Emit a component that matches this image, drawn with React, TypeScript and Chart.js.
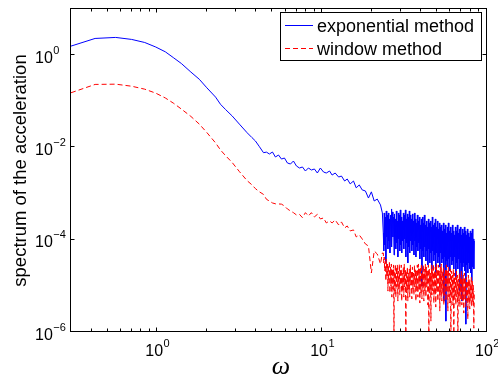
import React, { useEffect, useRef } from "react";
import { Chart, registerables } from "chart.js";

Chart.register(...registerables);

// ---- data ----
const omega = [
  0.3, 0.42, 0.56, 0.7, 0.84, 0.98, 1.12, 1.26, 1.4, 1.6, 1.8, 2.0, 2.26, 2.42, 2.6, 2.85, 3.15, 3.51, 3.75, 3.94, 4.15,
  4.41, 4.6, 4.79, 5.0, 5.21, 5.44, 5.67, 5.91, 6.16, 6.43,
  6.7, 6.99, 7.29, 7.6, 7.92, 8.26, 8.61, 8.98, 9.36, 9.76,
  10.2, 10.6, 11.1, 11.5, 12.0, 12.6, 13.1, 13.7, 14.2, 14.8,
  15.5, 16.1, 16.8, 17.5, 18.3, 19.1, 19.9, 20.7, 21.6, 22.6, 23.2,
  23.5, 23.66, 23.8, 23.97, 24.2, 24.37, 24.5, 24.67, 24.9, 25.07,
  25.2, 25.38, 25.6, 25.78, 26.0, 26.18, 26.3, 26.48, 26.7, 26.89,
  27.1, 27.29, 27.4, 27.59, 27.8, 27.99, 28.2, 28.4, 28.6, 28.8,
  29.0, 29.2, 29.4, 29.6, 29.8, 30.0, 30.2, 30.4, 30.6, 30.8,
  31.1, 31.3, 31.5, 31.7, 32.0, 32.2, 32.4, 32.6, 32.9, 33.1,
  33.3, 33.5, 33.8, 34.0, 34.3, 34.5, 34.8, 35.0, 35.3, 35.5,
  35.8, 36.05, 36.3, 36.55, 36.8, 37.05, 37.3, 37.55, 37.8, 38.1,
  38.4, 38.65, 38.9, 39.15, 39.4, 39.7, 40.0, 40.3, 40.6, 40.9,
  41.1, 41.4, 41.7, 42.0, 42.3, 42.6, 42.9, 43.2, 43.5, 43.8,
  44.1, 44.4, 44.7, 45.0, 45.4, 45.7, 46.0, 46.3, 46.6, 46.9,
  47.3, 47.6, 48.0, 48.3, 48.6, 48.9, 49.3, 49.6, 50.0, 50.35,
  50.7, 51.05, 51.4, 51.75, 52.1, 52.45, 52.8, 53.2, 53.6, 54.0,
  54.4, 54.75, 55.1, 55.5, 55.9, 56.3, 56.7, 57.1, 57.5, 57.9,
  58.3, 58.7, 59.1, 59.5, 60.0, 60.4, 60.8, 61.2, 61.7, 62.1,
  62.5, 62.9, 63.4, 63.8, 64.3, 64.75, 65.2, 65.65, 66.1, 66.55,
  67.1, 67.55, 68.0, 68.5, 69.0, 69.45, 69.9, 70.4, 70.9, 71.4,
  71.8, 72.3, 72.9, 73.4, 73.9, 74.4, 75.0, 75.5, 76.0, 76.5,
  77.1, 77.6, 78.1, 78.6, 79.2, 79.75, 80.3, 80.85, 81.5, 82.05,
  82.6, 83.2, 83.8,
];

const exponentialMethod = [
  1.57, 2.3, 2.42, 2.19, 1.88, 1.5, 1.18, 0.87, 0.66, 0.43, 0.3, 0.196, 0.123, 0.086, 0.066, 0.048, 0.032, 0.0208, 0.0164, 0.0138, 0.0106,
  7.7e-3, 7.9e-3, 7.2e-3, 7.95e-3, 6.2e-3, 6.85e-3, 5.6e-3, 5.9e-3, 4.6e-3, 4.37e-3,
  5.08e-3, 3.96e-3, 3.58e-3, 3.77e-3, 3.08e-3, 3.58e-3, 3.24e-3, 3.41e-3, 2.79e-3, 3.58e-3,
  2.93e-3, 2.79e-3, 3.08e-3, 2.52e-3, 2.79e-3, 2.28e-3, 2.4e-3, 1.87e-3, 2.07e-3, 1.62e-3,
  1.87e-3, 1.33e-3, 1.54e-3, 1.2e-3, 1.14e-3, 8.0e-4, 1.09e-3, 6.9e-4, 7.6e-4, 5.67e-4, 3.8e-4,
  1.4e-4, 5.7e-5, 3.8e-4, 7.7e-5, 3.11e-4, 3.14e-5, 4.2e-4, 1.15e-4, 3.44e-4, 6.3e-5,
  3.8e-4, 9.4e-5, 2.82e-4, 5.16e-5, 3.44e-4, 1.04e-4, 4.64e-4, 6.96e-5, 4.0e-4, 1.15e-4,
  3.11e-4, 4.67e-5, 3.62e-4, 9.4e-5, 2.82e-4, 6.3e-5, 4.2e-4, 8.5e-5, 2.55e-4, 4.23e-5,
  3.8e-4, 1.04e-4, 3.44e-4, 5.7e-5, 4.42e-4, 7.7e-5, 3.11e-4, 5.16e-5, 2.55e-4, 9.4e-5,
  3.8e-4, 6.3e-5, 3.44e-4, 1.04e-4, 4.42e-4, 4.23e-5, 2.82e-4, 8.5e-5, 3.62e-4, 3.14e-5,
  3.11e-4, 6.96e-5, 4.2e-4, 5.16e-5, 3.44e-4, 9.4e-5, 2.82e-4, 5.7e-5, 3.62e-4, 7.7e-5,
  2.55e-4, 4.67e-5, 3.8e-4, 9.4e-5, 2.82e-4, 4.23e-5, 2.31e-4, 6.96e-5, 3.44e-4, 5.7e-5,
  2.55e-4, 8.5e-5, 3.11e-4, 3.83e-5, 2.09e-4, 6.3e-5, 2.82e-4, 9.9e-6, 3.11e-4, 5.7e-5,
  2.31e-4, 4.23e-5, 3.44e-4, 6.96e-5, 2.09e-4, 3.47e-5, 2.55e-4, 5.7e-5, 1.89e-4, 2.84e-5,
  2.82e-4, 6.3e-5, 2.31e-4, 3.14e-5, 2.55e-4, 5.16e-5, 1.89e-4, 2.32e-5, 3.11e-4, 5.7e-5,
  2.09e-4, 3.47e-5, 2.31e-4, 4.67e-5, 2.82e-4, 1.9e-5, 1.89e-4, 5.16e-5, 2.55e-4, 3.14e-5,
  1.71e-4, 4.23e-5, 2.31e-4, 2.57e-5, 1.89e-4, 5.16e-5, 2.09e-4, 3.14e-5, 1.55e-4, 3.83e-5,
  2.31e-4, 4.68e-6, 1.71e-4, 4.23e-5, 2.09e-4, 1.72e-6, 1.4e-4, 3.47e-5, 1.89e-4, 2.57e-5,
  2.31e-4, 3.83e-5, 1.55e-4, 2.1e-5, 1.89e-4, 4.23e-5, 1.4e-4, 2.84e-5, 2.09e-4, 3.47e-5,
  1.55e-4, 2.32e-5, 1.27e-4, 4.23e-5, 1.89e-4, 1.56e-5, 1.55e-4, 3.14e-5, 2.09e-4, 2.32e-5,
  1.4e-4, 3.83e-5, 1.71e-4, 7.7e-6, 1.89e-4, 3.14e-5, 1.27e-4, 4.68e-6, 1.71e-4, 2.57e-5,
  1.4e-4, 3.14e-5, 1.89e-4, 2.1e-5, 1.55e-4, 1.48e-6, 1.27e-4, 2.84e-5, 1.71e-4, 1.9e-5,
  1.4e-4, 3.14e-5, 1.15e-4, 2.32e-5, 1.55e-4, 1.9e-5, 1.4e-4, 1.28e-5, 1.71e-4, 2.57e-5,
  1.04e-4, 2.32e-5, 9.4e-5,
];

const windowMethod = [
  0.153, 0.232, 0.235, 0.212, 0.183, 0.15, 0.118, 0.09, 0.068, 0.047, 0.032, 0.021, 0.0125, 0.0088, 0.0066, 0.0047, 0.003, 0.0019, 0.00155, 0.00128, 0.0011,
  9.6e-4, 7.5e-4, 6.9e-4, 6.26e-4, 6.0e-4, 5.96e-4, 5.9e-4, 5.39e-4, 4.64e-4, 4.2e-4,
  3.86e-4, 3.44e-4, 3.55e-4, 3.0e-4, 3.86e-4, 3.27e-4, 3.86e-4, 3.11e-4, 3.55e-4, 2.82e-4,
  2.96e-4, 2.31e-4, 2.55e-4, 2.31e-4, 2.68e-4, 2.09e-4, 2.43e-4, 1.8e-4, 1.99e-4, 1.55e-4,
  1.63e-4, 1.15e-4, 1.27e-4, 1.04e-4, 8.1e-5, 7.3e-5, 1.9e-5, 5.7e-5, 4.9e-5, 2.98e-5, 5.16e-5,
  5.16e-5, 3.14e-5, 4.23e-5, 2.1e-5, 3.47e-5, 1.28e-5, 3.83e-5, 1.64e-5, 2.98e-5, 7.7e-6,
  2.84e-5, 1.15e-5, 3.47e-5, 7.0e-6, 2.57e-5, 9.9e-6, 2.98e-5, 5.7e-6, 2.32e-5, 8.5e-6,
  2.84e-5, 5e-7, 2.1e-5, 7.7e-6, 2.98e-5, 5.7e-6, 2.57e-5, 9.43e-6, 2.84e-5, 4.68e-6,
  2.1e-5, 8.5e-6, 2.98e-5, 6.3e-6, 2.32e-5, 1.04e-5, 2.84e-5, 4.68e-6, 1.9e-5, 7.7e-6,
  2.57e-5, 5.7e-6, 2.98e-5, 9.43e-6, 2.32e-5, 5e-7, 2.1e-5, 7.0e-6, 2.57e-5, 4.68e-6,
  1.9e-5, 8.5e-6, 2.32e-5, 5.7e-6, 2.84e-5, 1.04e-5, 2.1e-5, 5.2e-6, 2.57e-5, 8.5e-6,
  1.9e-5, 6.3e-6, 2.84e-5, 9.43e-6, 2.32e-5, 4.68e-6, 2.1e-5, 7.7e-6, 2.84e-5, 5.7e-6,
  2.98e-5, 8.5e-6, 2.32e-5, 4.24e-6, 2.57e-5, 7.0e-6, 2.98e-5, 5.2e-6, 2.1e-5, 8.5e-6,
  2.84e-5, 4.68e-6, 2.32e-5, 7.7e-6, 2.98e-5, 5.7e-6, 2.57e-5, 9.43e-6, 2.1e-5, 3.83e-6,
  2.84e-5, 5e-7, 2.32e-5, 7.0e-6, 1.9e-5, 1.72e-6, 2.84e-5, 6.3e-6, 2.32e-5, 7.7e-6,
  2.98e-5, 4.24e-6, 2.1e-5, 6.3e-6, 2.57e-5, 3.47e-6, 2.98e-5, 7.7e-6, 2.32e-5, 4.68e-6,
  2.84e-5, 7.0e-6, 2.1e-5, 2.84e-6, 2.57e-5, 6.3e-6, 2.98e-5, 4.68e-6, 2.1e-5, 7.0e-6,
  2.57e-5, 3.83e-6, 1.9e-5, 6.3e-6, 2.32e-5, 4.68e-6, 2.84e-5, 7.7e-6, 2.1e-5, 2.84e-6,
  2.57e-5, 5.7e-6, 1.9e-5, 4.24e-6, 2.32e-5, 5e-7, 2.1e-5, 5.7e-6, 1.72e-5, 3.83e-6,
  2.32e-5, 5e-7, 1.9e-5, 5.2e-6, 1.56e-5, 3.83e-6, 2.1e-5, 5.7e-6, 1.72e-5, 5e-7,
  1.41e-5, 4.68e-6, 1.9e-5, 3.47e-6, 1.56e-5, 5.2e-6, 2.1e-5, 3.83e-6, 1.41e-5, 4.68e-6,
  1.72e-5, 2.57e-6, 1.9e-5, 5.2e-6, 1.41e-5, 3.47e-6, 1.56e-5, 4.68e-6, 1.28e-5, 1.9e-6,
  1.72e-5, 4.24e-6, 1.41e-5, 3.14e-6, 1.15e-5, 4.68e-6, 1.56e-5, 3.47e-6, 1.28e-5, 4.24e-6,
  1.04e-5, 1.21e-6, 7.7e-6,
];

const xTickValues = [1, 10, 100];
const xTickExponents = ["0", "1", "2"];
const xMinorTicks = [0.4, 0.5, 0.6, 0.7, 0.8, 0.9, 2, 3, 4, 5, 6, 7, 8, 9, 20, 30, 40, 50, 60, 70, 80, 90];
const yTickValues = [1, 1e-2, 1e-4, 1e-6];
const yTickExponents = ["0", "\u22122", "\u22124", "\u22126"];
const seriesLabels = ["exponential method", "window method"];
const yAxisLabel = "spectrum of the acceleration";
const xAxisLabel = "\u03c9";

const SANS = '"Liberation Sans", Arial, Helvetica, sans-serif';

const decorPlugin = {
  id: "matlabDecor",
  afterDraw(chart: any) {
    const { ctx, chartArea: a, scales } = chart;
    const xs = scales.x;
    const ys = scales.y;
    const L = a.left - 0.5;
    const R = a.right - 0.5;
    const T = a.top - 0.5;
    const B = a.bottom - 0.5;
    ctx.save();
    ctx.strokeStyle = "#000";
    ctx.lineWidth = 1;
    ctx.setLineDash([]);
    ctx.strokeRect(L, T, R - L, B - T);

    const xTick = (v: number, len: number) => {
      const x = Math.round(xs.getPixelForValue(v)) - 0.5;
      ctx.beginPath();
      ctx.moveTo(x, B);
      ctx.lineTo(x, B - len);
      ctx.moveTo(x, T);
      ctx.lineTo(x, T + len);
      ctx.stroke();
    };
    xTickValues.forEach((v) => xTick(v, 4));
    xMinorTicks.forEach((v) => xTick(v, 3));
    yTickValues.forEach((v) => {
      const y = Math.round(ys.getPixelForValue(v)) - 0.5;
      ctx.beginPath();
      ctx.moveTo(L, y);
      ctx.lineTo(L + 4, y);
      ctx.moveTo(R, y);
      ctx.lineTo(R - 4, y);
      ctx.stroke();
    });

    // tick labels
    ctx.fillStyle = "#000";
    ctx.textBaseline = "alphabetic";
    ctx.textAlign = "left";
    const big = "16px " + SANS;
    const small = "11px " + SANS;
    xTickValues.forEach((v, i) => {
      const x = xs.getPixelForValue(v);
      ctx.font = big;
      const w1 = ctx.measureText("10").width;
      ctx.font = small;
      const w2 = ctx.measureText(xTickExponents[i]).width;
      const x0 = x - (w1 + w2) / 2;
      ctx.font = big;
      ctx.fillText("10", x0, a.bottom + 24);
      ctx.font = small;
      ctx.fillText(xTickExponents[i], x0 + w1 + 0.5, a.bottom + 14.5);
    });
    yTickValues.forEach((v, i) => {
      const y = ys.getPixelForValue(v);
      const x0 = a.left - 36;
      ctx.font = big;
      const w1 = ctx.measureText("10").width;
      ctx.fillText("10", x0, y + 7.7);
      ctx.font = small;
      ctx.fillText(yTickExponents[i], x0 + w1 + 0.5, y - 1.3);
    });

    // axis labels
    ctx.save();
    ctx.translate(26, (a.top + a.bottom) / 2);
    ctx.rotate(-Math.PI / 2);
    ctx.textAlign = "center";
    ctx.font = "18.5px " + SANS;
    ctx.fillText(yAxisLabel, 0, 0);
    ctx.restore();

    ctx.textAlign = "center";
    ctx.font = 'italic 26px "Liberation Serif", "Times New Roman", serif';
    ctx.fillText(xAxisLabel, (a.left + a.right) / 2 + 2, 374);

    // legend
    const bx = 280.5, by = 12.5, bw = 201, bh = 48;
    ctx.fillStyle = "#fff";
    ctx.fillRect(bx, by, bw, bh);
    ctx.strokeStyle = "#000";
    ctx.strokeRect(bx, by, bw, bh);
    const rows = [25.5, 48.5];
    const colors = ["#0000ff", "#ff0000"];
    const dashes = [[], [5, 3]];
    rows.forEach((ry, i) => {
      ctx.strokeStyle = colors[i];
      ctx.setLineDash(dashes[i]);
      ctx.beginPath();
      ctx.moveTo(285, ry);
      ctx.lineTo(313, ry);
      ctx.stroke();
      ctx.setLineDash([]);
      ctx.fillStyle = "#000";
      ctx.textAlign = "left";
      ctx.font = "18px " + SANS;
      ctx.fillText(seriesLabels[i], 317, ry + 6);
    });
    ctx.restore();
  },
};

export default function App() {
  const canvasRef = useRef<HTMLCanvasElement | null>(null);

  useEffect(() => {
    const canvas = canvasRef.current;
    if (!canvas) return;
    const chart = new Chart(canvas, {
      type: "line",
      data: {
        datasets: [
          {
            label: seriesLabels[1],
            data: omega.map((x, i) => ({ x, y: windowMethod[i] })),
            borderColor: "#ff0000",
            borderWidth: 1,
            borderDash: [5, 3],
            pointRadius: 0,
            tension: 0,
            fill: false,
            order: 0,
          },
          {
            label: seriesLabels[0],
            data: omega.map((x, i) => ({ x, y: exponentialMethod[i] })),
            borderColor: "#0000ff",
            borderWidth: 1,
            pointRadius: 0,
            tension: 0,
            fill: false,
            order: 1,
          },
        ],
      },
      options: {
        responsive: false,
        maintainAspectRatio: false,
        animation: false,
        events: [],
        layout: { padding: { left: 71, top: 9, right: 11, bottom: 44 } },
        scales: {
          x: { type: "logarithmic", min: 0.3, max: 100, display: false },
          y: { type: "logarithmic", min: 1e-6, max: 10, display: false },
        },
        plugins: {
          legend: { display: false },
          tooltip: { enabled: false },
        },
      },
      plugins: [decorPlugin],
    });
    return () => chart.destroy();
  }, []);

  return (
    <div style={{ position: "fixed", left: 0, top: 0, width: 498, height: 376, background: "#fff" }}>
      <canvas ref={canvasRef} width={498} height={376} style={{ display: "block" }} />
    </div>
  );
}
